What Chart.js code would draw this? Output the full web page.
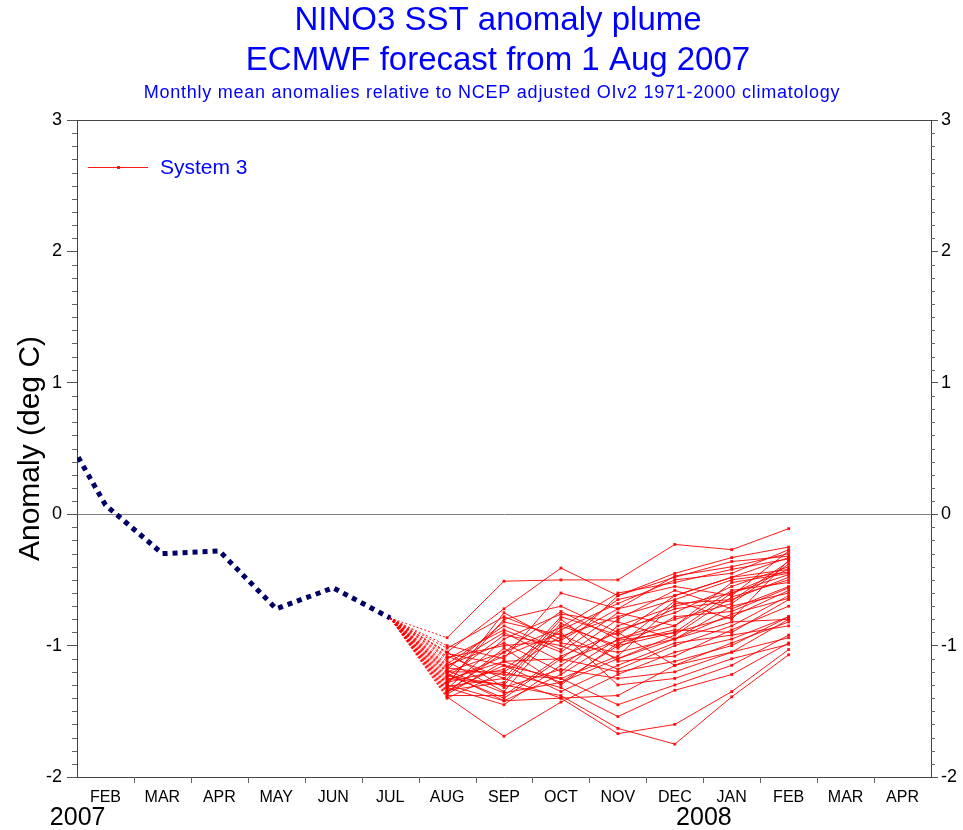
<!DOCTYPE html>
<html>
<head>
<meta charset="utf-8">
<script src="https://cdn.jsdelivr.net/npm/chart.js@4.4.1/dist/chart.umd.min.js"></script>
<style>
  body { margin: 0; background: #fff; }
  canvas { display: block; }
</style>
</head>
<body>
<canvas id="plumeChart" width="963" height="830"></canvas>
<script>
// month positions: 0 = JAN 2007 (off the left edge), 1 = FEB 2007 ... 15 = APR 2008
var monthLabels = ["FEB", "MAR", "APR", "MAY", "JUN", "JUL", "AUG", "SEP", "OCT", "NOV", "DEC", "JAN", "FEB", "MAR", "APR"];
var yearLabels = [[1, "2007"], [12, "2008"]];

// observed anomaly, JAN..JUL 2007
var obsMonths = [0, 1, 2, 3, 4, 5, 6];
var obsValues = [0.83, 0.07, -0.30, -0.28, -0.72, -0.56, -0.79];

// System 3 members, AUG 2007 .. FEB 2008
var fcMonths = [7, 8, 9, 10, 11, 12, 13];
var members = [
    [-0.94, -0.51, -0.50, -0.50, -0.23, -0.27, -0.11],
    [-1.05, -0.72, -0.41, -0.62, -0.45, -0.33, -0.25],
    [-1.39, -1.69, -1.43, -1.22, -1.05, -0.95, -0.78],
    [-1.25, -1.30, -1.38, -1.63, -1.75, -1.39, -1.07],
    [-1.30, -1.42, -1.40, -1.67, -1.60, -1.35, -1.03],
    [-1.20, -1.20, -1.32, -1.54, -1.34, -1.22, -0.98],
    [-1.35, -1.15, -1.25, -1.45, -1.30, -1.15, -0.92],
    [-1.00, -1.10, -0.60, -0.72, -0.47, -0.40, -0.30],
    [-1.02, -0.78, -0.95, -0.65, -0.55, -0.62, -0.28],
    [-1.08, -1.25, -0.78, -0.92, -0.62, -0.48, -0.33],
    [-1.10, -0.88, -1.05, -0.75, -0.85, -0.52, -0.45],
    [-1.12, -1.35, -0.85, -1.00, -0.66, -0.80, -0.35],
    [-1.15, -0.98, -1.20, -0.85, -0.70, -0.60, -0.42],
    [-1.18, -0.82, -0.92, -1.10, -0.92, -0.63, -0.50],
    [-1.20, -1.05, -0.74, -0.95, -0.80, -0.68, -0.38],
    [-1.22, -1.40, -1.10, -0.80, -0.58, -0.72, -0.55],
    [-1.24, -0.92, -1.00, -1.18, -1.00, -0.85, -0.62],
    [-1.26, -1.12, -1.28, -1.00, -0.90, -0.78, -0.58],
    [-1.28, -1.18, -0.88, -0.68, -0.50, -0.45, -0.27],
    [-1.30, -0.75, -0.98, -1.05, -0.95, -0.82, -0.80],
    [-1.32, -1.45, -1.15, -0.88, -0.75, -0.55, -0.40],
    [-1.34, -1.28, -0.80, -1.12, -1.08, -0.88, -0.70],
    [-1.36, -1.02, -1.30, -0.98, -0.88, -0.90, -0.65],
    [-1.38, -1.38, -1.08, -0.90, -1.15, -0.98, -0.82],
    [-1.40, -1.20, -0.93, -0.78, -0.65, -0.50, -0.44],
    [-1.05, -1.32, -1.18, -1.25, -1.20, -1.05, -0.94],
    [-1.14, -0.85, -1.03, -0.62, -0.48, -0.36, -0.32],
    [-1.27, -1.08, -0.90, -1.30, -1.25, -1.10, -0.99],
    [-1.17, -1.22, -1.25, -1.08, -0.68, -0.65, -0.48],
    [-1.33, -0.95, -0.76, -0.82, -0.95, -0.70, -0.60],
    [-1.06, -1.15, -1.35, -1.15, -0.98, -0.92, -0.85],
    [-1.21, -1.42, -1.22, -0.95, -0.85, -0.58, -0.52],
    [-1.29, -0.80, -0.70, -0.90, -0.72, -0.66, -0.36],
    [-1.37, -1.12, -1.10, -1.20, -1.12, -1.00, -0.78],
    [-1.09, -1.00, -0.96, -0.72, -0.62, -0.48, -0.42],
    [-1.23, -1.30, -0.83, -1.02, -0.78, -0.74, -0.56],
    [-1.31, -1.25, -1.40, -1.38, -1.15, -1.05, -0.80],
    [-1.16, -0.90, -1.12, -0.96, -0.90, -0.60, -0.46],
    [-1.35, -1.05, -0.86, -0.60, -0.52, -0.42, -0.34],
    [-1.19, -1.36, -1.28, -1.10, -0.95, -0.76, -0.64]
];

var titleLines = ["NINO3 SST anomaly plume", "ECMWF forecast from 1 Aug 2007"];
var subTitle = "Monthly mean anomalies relative to NCEP adjusted OIv2 1971-2000 climatology";
var legendText = "System 3";

var FONT = "'Liberation Sans', Arial, Helvetica, sans-serif";
var BLUE = "#0000ff";
var RED = "rgba(255, 0, 0, 0.9)";
var AXIS = "#444444";

var datasets = [];

// observations: thick dotted navy line
datasets.push({
    label: "obs",
    data: obsMonths.map(function(m, i) { return { x: m, y: obsValues[i] }; }),
    borderColor: "#000066",
    borderWidth: 5,
    borderDash: [5, 5],
    borderCapStyle: "butt",
    pointRadius: 0,
    tension: 0,
    clip: 0
});

// each member starts at the last observed point
var lastObs = obsValues[obsValues.length - 1];
members.forEach(function(mem, k) {
    var pts = [{ x: 6, y: lastObs }];
    mem.forEach(function(v, i) { pts.push({ x: fcMonths[i], y: v }); });
    datasets.push({
        label: "member " + (k + 1),
        data: pts,
        borderColor: RED,
        backgroundColor: RED,
        borderWidth: 1,
        pointStyle: "rect",
        pointRadius: function(ctx) { return ctx.dataIndex === 0 ? 0 : 2; },
        pointBorderWidth: 0,
        tension: 0,
        segment: {
            borderDash: function(ctx) { return ctx.p0DataIndex === 0 ? [2, 2] : undefined; }
        }
    });
});

var extrasPlugin = {
    id: "extras",
    afterDraw: function(chart) {
        var ctx = chart.ctx;
        var area = chart.chartArea;
        var xs = chart.scales.x;
        var ys = chart.scales.y;
        ctx.save();

        // top frame line
        ctx.strokeStyle = AXIS;
        ctx.lineWidth = 1;
        ctx.beginPath();
        ctx.moveTo(area.left, Math.round(area.top) + 0.5);
        ctx.lineTo(area.right, Math.round(area.top) + 0.5);
        ctx.stroke();

        // minor ticks every 0.1 on both y axes
        ctx.strokeStyle = "#666";
        for (var i = -20; i <= 30; i++) {
            if (i % 10 === 0) continue;
            var py = Math.round(ys.getPixelForValue(i / 10)) + 0.5;
            ctx.beginPath();
            ctx.moveTo(area.left - 5, py);
            ctx.lineTo(area.left, py);
            ctx.moveTo(area.right, py);
            ctx.lineTo(area.right + 4, py);
            ctx.stroke();
        }

        // month boundary ticks on x axis
        for (var m = 1; m < monthLabels.length; m++) {
            var px = Math.round(xs.getPixelForValue(m + 0.5)) + 0.5;
            ctx.beginPath();
            ctx.moveTo(px, area.bottom);
            ctx.lineTo(px, area.bottom + 6);
            ctx.stroke();
        }

        // year labels
        ctx.fillStyle = "#000";
        ctx.font = "25px " + FONT;
        ctx.textAlign = "right";
        ctx.textBaseline = "middle";
        yearLabels.forEach(function(yl) {
            ctx.fillText(yl[1], xs.getPixelForValue(yl[0]), 818);
        });

        // titles
        ctx.fillStyle = BLUE;
        ctx.textAlign = "center";
        ctx.font = "33px " + FONT;
        ctx.fillText(titleLines[0], 498, 21);
        ctx.fillText(titleLines[1], 498, 61);
        ctx.font = "18px " + FONT;
        ctx.letterSpacing = "0.75px";
        ctx.fillText(subTitle, 492, 93);
        ctx.letterSpacing = "0px";

        // legend inside the plot
        ctx.strokeStyle = RED;
        ctx.beginPath();
        ctx.moveTo(88, 167.5);
        ctx.lineTo(148, 167.5);
        ctx.stroke();
        ctx.fillStyle = RED;
        ctx.fillRect(117, 166, 3, 3);
        ctx.fillStyle = BLUE;
        ctx.font = "21px " + FONT;
        ctx.textAlign = "left";
        ctx.fillText(legendText, 160, 168);

        ctx.restore();
    }
};

var plumeChartInstance = new Chart(document.getElementById("plumeChart"), {
    type: "line",
    data: { datasets: datasets },
    options: {
        responsive: false,
        animation: false,
        devicePixelRatio: 1,
        layout: { padding: { top: 120, left: 0, right: 0, bottom: 0 } },
        plugins: {
            legend: { display: false },
            tooltip: { enabled: false }
        },
        scales: {
            x: {
                type: "linear",
                min: 0.5,
                max: 15.5,
                afterBuildTicks: function(scale) {
                    scale.ticks = monthLabels.map(function(l, i) { return { value: i + 1 }; });
                },
                ticks: {
                    autoSkip: false,
                    maxRotation: 0,
                    color: "#000",
                    font: { family: FONT, size: 16 },
                    padding: 11,
                    callback: function(v) { return monthLabels[v - 1]; }
                },
                grid: { display: false, drawTicks: false },
                border: { display: true, color: AXIS },
                afterFit: function(scale) { scale.height = 53; }
            },
            y: {
                position: "left",
                min: -2,
                max: 3,
                ticks: {
                    stepSize: 1,
                    color: "#000",
                    font: { family: FONT, size: 18 },
                    padding: 5
                },
                grid: {
                    color: function(ctx) { return ctx.tick && ctx.tick.value === 0 ? "#808080" : "rgba(0,0,0,0)"; },
                    tickColor: "#555",
                    tickLength: 10
                },
                border: { color: AXIS },
                title: {
                    display: true,
                    text: "Anomaly (deg C)",
                    color: "#000",
                    font: { family: FONT, size: 30 },
                    padding: { top: 13, bottom: 0 }
                },
                afterFit: function(scale) { scale.width = 77; }
            },
            y2: {
                position: "right",
                min: -2,
                max: 3,
                ticks: {
                    stepSize: 1,
                    color: "#000",
                    font: { family: FONT, size: 18 },
                    padding: 3
                },
                grid: {
                    drawOnChartArea: false,
                    tickColor: "#555",
                    tickLength: 7
                },
                border: { color: AXIS },
                afterFit: function(scale) { scale.width = 32; }
            }
        }
    },
    plugins: [extrasPlugin]
});
</script>
</body>
</html>
